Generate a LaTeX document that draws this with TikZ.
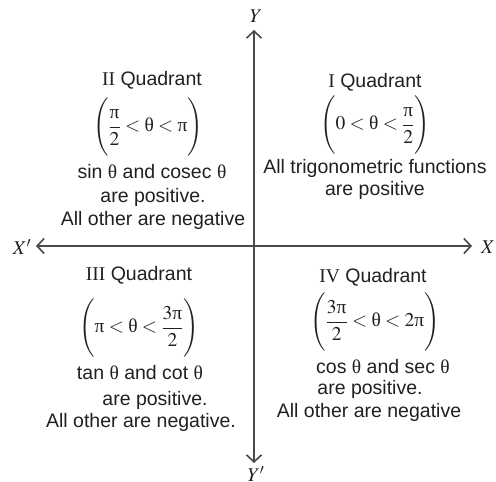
\documentclass[tikz,border=0pt]{standalone}
\usepackage{amsmath}
\usepackage{mathptmx}
\usepackage[no-math]{fontspec}
\setmainfont{Liberation Sans}
\newfontfamily\romfont{Liberation Serif}
\usetikzlibrary{arrows.meta}
\definecolor{axisgray}{HTML}{4A4A4A}
\definecolor{inkblack}{HTML}{231F20}
\newcommand{\upth}{\mbox{\romfont θ}}
\newcommand{\uppi}{\mbox{\romfont π}}
\tikzset{
  axis/.style={draw=axisgray, line width=1.6pt, -{Straight Barb[length=7pt,width=15pt]}},
  txt/.style={inner sep=0pt, text=inkblack, font=\fontsize{19.5}{22}\selectfont},
}
\begin{document}
\begin{tikzpicture}[x=1pt,y=-1pt]
  \useasboundingbox (0,0) rectangle (496,482);
  % axes
  \coordinate (o) at (254,246);
  \coordinate (xl) at (36,246);
  \coordinate (xr) at (472,246);
  \coordinate (yt) at (254,30);
  \coordinate (yb) at (254,463);
  \draw[axis] (o) -- (xl);
  \draw[axis] (o) -- (xr);
  \draw[axis] (o) -- (yt);
  \draw[axis] (o) -- (yb);
  \node[txt] (xlab) at (22,247) {$X'$};
  \node[txt] (xrlab) at (488,247) {$X$};
  \node[txt] (ytlab) at (256,16) {$Y$};
  \node[txt] (yblab) at (256,474) {$Y'$};
  % first quadrant
  \node[txt] (q1t) at (375,82) {{\romfont I} Quadrant};
  \node[txt] (q1r) at (375,125) {$\Biggl(0<\upth<\dfrac{\uppi}{2}\Biggr)$};
  \node[txt] (q1a) at (375,168) {All trigonometric functions};
  \node[txt] (q1b) at (375,190) {are positive};
  % second quadrant
  \node[txt] (q2t) at (152,80) {{\romfont II} Quadrant};
  \node[txt] (q2r) at (148,127) {$\Biggl(\dfrac{\uppi}{2}<\upth<\uppi\Biggr)$};
  \node[txt] (q2a) at (152,172) {sin \upth{} and cosec \upth};
  \node[txt] (q2b) at (153,197) {are positive.};
  \node[txt] (q2c) at (153,220) {All other are negative};
  % third quadrant
  \node[txt] (q3t) at (139,275) {{\romfont III} Quadrant};
  \node[txt] (q3r) at (139,328) {$\Biggl(\uppi<\upth<\dfrac{3\uppi}{2}\Biggr)$};
  \node[txt] (q3a) at (140,373) {tan \upth{} and cot \upth};
  \node[txt] (q3b) at (155,400) {are positive.};
  \node[txt] (q3c) at (141,422) {All other are negative.};
  % fourth quadrant
  \node[txt] (q4t) at (373,277) {{\romfont IV} Quadrant};
  \node[txt] (q4r) at (375,322) {$\Biggl(\dfrac{3\uppi}{2}<\upth<2\uppi\Biggr)$};
  \node[txt] (q4a) at (383,367) {cos \upth{} and sec \upth};
  \node[txt] (q4b) at (370,389) {are positive.};
  \node[txt] (q4c) at (369,412) {All other are negative};
\end{tikzpicture}
\end{document}
